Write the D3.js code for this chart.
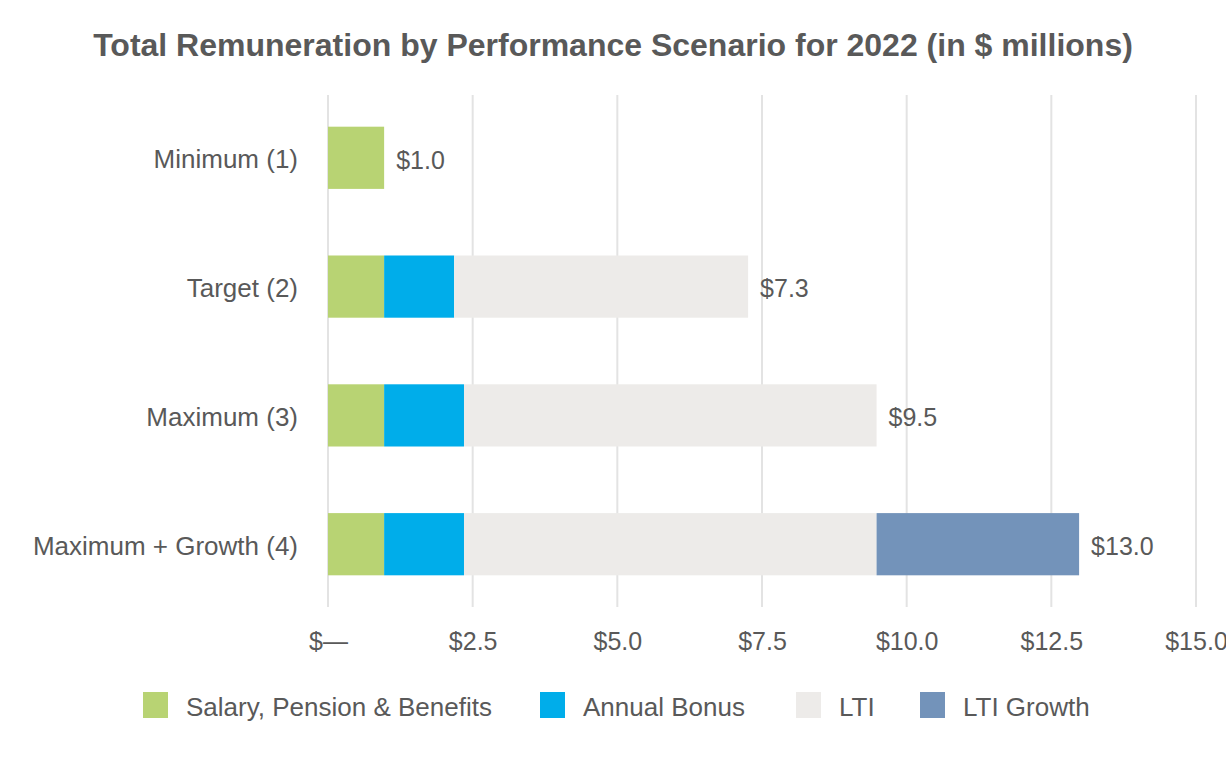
<!DOCTYPE html>
<html>
<head>
<meta charset="utf-8">
<script src="https://cdn.jsdelivr.net/npm/d3@7"></script>
<style>
  body { margin: 0; background: #fff; }
  text { font-family: "Liberation Sans", Arial, sans-serif; fill: #595959; }
</style>
</head>
<body>
<script>
// chart data
var categories = ["Minimum (1)", "Target (2)", "Maximum (3)", "Maximum + Growth (4)"];
var seriesNames = ["Salary, Pension & Benefits", "Annual Bonus", "LTI", "LTI Growth"];
var salary    = [0.97, 0.97, 0.97, 0.97];
var bonus     = [0,    1.21, 1.38, 1.38];
var lti       = [0,    5.08, 7.13, 7.13];
var ltiGrowth = [0,    0,    0,    3.50];
var xTicks    = [0, 2.5, 5, 7.5, 10, 12.5, 15];

var colors = ["#b8d373", "#00adea", "#edebe9", "#7393ba"];
var keys = ["salary", "bonus", "lti", "growth"];

var rows = categories.map(function (c, i) {
  return { cat: c, salary: salary[i], bonus: bonus[i], lti: lti[i], growth: ltiGrowth[i] };
});

var width = 1226, height = 760;
var plotLeft = 328, plotRight = 1196, plotTop = 95, plotBottom = 607;

var svg = d3.select("body").append("svg")
  .attr("width", width)
  .attr("height", height);

svg.append("text")
  .attr("x", 613)
  .attr("y", 56)
  .attr("text-anchor", "middle")
  .style("font-size", "32px")
  .style("font-weight", "bold")
  .text("Total Remuneration by Performance Scenario for 2022 (in $ millions)");

var x = d3.scaleLinear().domain([0, 15]).range([plotLeft, plotRight]);
var y = d3.scaleBand().domain(categories).range([plotTop, plotBottom])
  .paddingInner(0.517).paddingOuter(0.246);

// gridlines
svg.append("g").selectAll("line")
  .data(xTicks)
  .enter()
  .append("line")
  .attr("x1", function (d) { return x(d); })
  .attr("x2", function (d) { return x(d); })
  .attr("y1", plotTop)
  .attr("y2", plotBottom)
  .style("stroke", "#e3e3e3")
  .style("stroke-width", 2);

// stacked bars
var stack = d3.stack().keys(keys)(rows);

svg.append("g").selectAll("g")
  .data(stack)
  .enter()
  .append("g")
  .style("fill", function (d, i) { return colors[i]; })
  .selectAll("rect")
  .data(function (d) { return d; })
  .enter()
  .append("rect")
  .attr("x", function (d) { return x(d[0]); })
  .attr("y", function (d) { return y(d.data.cat); })
  .attr("width", function (d) { return x(d[1]) - x(d[0]); })
  .attr("height", y.bandwidth());

// total labels
svg.append("g").selectAll("text")
  .data(rows)
  .enter()
  .append("text")
  .attr("x", function (d) { return x(d.salary + d.bonus + d.lti + d.growth) + 12; })
  .attr("y", function (d) { return y(d.cat) + y.bandwidth() / 2 + 2; })
  .attr("dy", "0.35em")
  .style("font-size", "25px")
  .text(function (d) { return "$" + (d.salary + d.bonus + d.lti + d.growth).toFixed(1); });

// axes
var xAxis = d3.axisBottom(x)
  .tickValues(xTicks)
  .tickSize(0)
  .tickPadding(25)
  .tickFormat(function (d) { return d === 0 ? "$\u2014" : "$" + d.toFixed(1); });

var gx = svg.append("g")
  .attr("transform", "translate(0," + plotBottom + ")")
  .call(xAxis);
gx.select(".domain").remove();
gx.selectAll("text").style("font-size", "25px").style("fill", "#595959");

var gy = svg.append("g")
  .attr("transform", "translate(" + plotLeft + ",2)")
  .call(d3.axisLeft(y).tickSize(0).tickPadding(30));
gy.select(".domain").remove();
gy.selectAll("text").style("font-size", "26px").style("fill", "#595959");

// legend
var legendX = [143, 540, 796, 920];
var legend = svg.append("g").selectAll("g")
  .data(seriesNames)
  .enter()
  .append("g")
  .attr("transform", function (d, i) { return "translate(" + legendX[i] + ",692)"; });

legend.append("rect")
  .attr("width", 25)
  .attr("height", 26)
  .style("fill", function (d, i) { return colors[i]; });

legend.append("text")
  .attr("x", 43)
  .attr("y", 15)
  .attr("dy", "0.35em")
  .style("font-size", "26px")
  .text(function (d) { return d; });
</script>
</body>
</html>
